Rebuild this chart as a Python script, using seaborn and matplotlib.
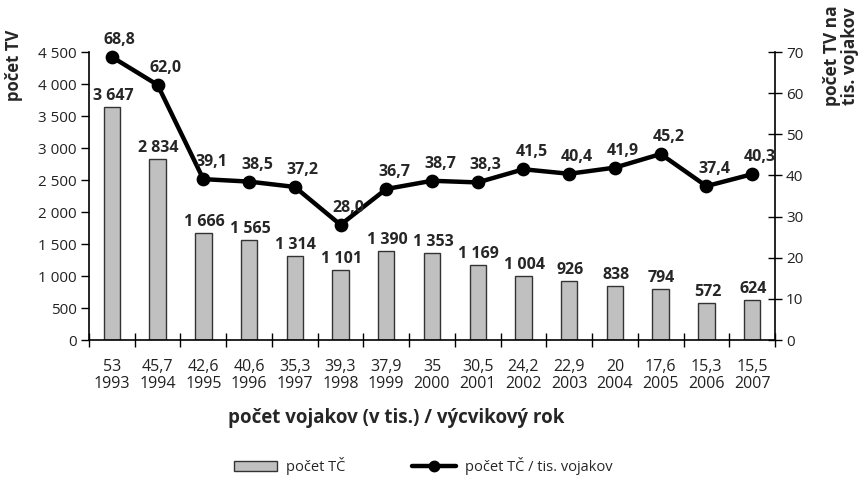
import matplotlib
matplotlib.use("Agg")
import matplotlib.pyplot as plt
import seaborn as sns
import numpy as np
import pandas as pd
from matplotlib.patches import Patch
from matplotlib.lines import Line2D

soldiers = ["53", "45,7", "42,6", "40,6", "35,3", "39,3", "37,9", "35", "30,5",
            "24,2", "22,9", "20", "17,6", "15,3", "15,5"]
years = ["1993", "1994", "1995", "1996", "1997", "1998", "1999", "2000", "2001",
         "2002", "2003", "2004", "2005", "2006", "2007"]
counts = [3647, 2834, 1666, 1565, 1314, 1101, 1390, 1353, 1169, 1004, 926, 838, 794, 572, 624]
rates = [68.8, 62.0, 39.1, 38.5, 37.2, 28.0, 36.7, 38.7, 38.3, 41.5, 40.4, 41.9, 45.2, 37.4, 40.3]
left_ticks = [0, 500, 1000, 1500, 2000, 2500, 3000, 3500, 4000, 4500]
right_ticks = [0, 10, 20, 30, 40, 50, 60, 70]

sns.set_style("white")
plt.rcParams["font.family"] = ["Open Sans", "DejaVu Sans"]

cats = [f"{s}\n{y}" for s, y in zip(soldiers, years)]
df = pd.DataFrame({"cat": cats, "count": counts, "rate": rates})

fig = plt.figure(figsize=(8.67, 4.82), dpi=100)
ax = fig.add_axes([89/867, 1-340/482, (775-89)/867, (340-52)/482])
sns.barplot(data=df, x="cat", y="count", ax=ax, color="#c0c0c0", width=0.36,
            edgecolor="#333333", linewidth=1.0, saturation=1)
ax2 = ax.twinx()
sns.pointplot(data=df, x="cat", y="rate", ax=ax2, color="black", markers="o",
              linewidth=3.2, markersize=7.5)
for coll in ax2.collections + ax2.lines:
    coll.set_clip_on(False)

n = len(cats)
ax.set_xlim(-0.5, n - 0.5)
ax2.set_xlim(-0.5, n - 0.5)
ax.set_ylim(0, 4500)
ax2.set_ylim(0, 70)

ax.set_yticks(left_ticks)
ax.set_yticklabels([f"{v:,}".replace(",", " ") for v in left_ticks], fontsize=11)
ax2.set_yticks(right_ticks)
ax2.set_yticklabels([str(v) for v in right_ticks], fontsize=11)
ax.set_xticks(range(n))
ax.set_xticklabels(cats, fontsize=11.5, linespacing=1.05)
ax.set_xticks(np.arange(-0.5, n, 1.0), minor=True)
ax.tick_params(axis="x", which="major", bottom=True, length=0, pad=14, colors="#222222")
ax.tick_params(axis="x", which="minor", bottom=True, length=10, width=1,
               direction="inout", color="black")
ax.tick_params(axis="y", left=True, right=False, length=6, width=1, direction="out",
               color="black", pad=3, labelcolor="#222222")
ax2.tick_params(axis="y", right=True, left=False, length=10, width=1, direction="inout",
                color="black", pad=3, labelcolor="#222222")
ax2.tick_params(axis="x", bottom=False, labelbottom=False)
ax.set_xlabel("")
ax.set_ylabel("")
ax2.set_ylabel("")
ax2.set_xlabel("")

for a in (ax, ax2):
    a.spines["top"].set_visible(False)
    for s in ("left", "right", "bottom"):
        a.spines[s].set_color("black")
        a.spines[s].set_linewidth(1.2)
ax.spines["right"].set_visible(False)
ax2.spines["left"].set_visible(False)
ax2.spines["bottom"].set_visible(False)

for i, v in enumerate(counts):
    ax.annotate(f"{v:,}".replace(",", " "), (i, v), xytext=(1, 3), textcoords="offset pixels",
                ha="center", va="bottom", fontsize=11.5, fontweight="bold", annotation_clip=False)
for i, v in enumerate(rates):
    ax2.annotate(f"{v:.1f}".replace(".", ","), (i, v), xytext=(8, 9), textcoords="offset pixels",
                 ha="center", va="bottom", fontsize=11.5, fontweight="bold", annotation_clip=False)

fig.text(14/867, 1-65/482, "počet TV", rotation=90, ha="center", va="center",
         fontsize=12, fontweight="bold")
fig.text(841/867, 1-56/482, "počet TV na\ntis. vojakov", rotation=90, ha="center", va="center",
         fontsize=12.5, fontweight="bold", linespacing=0.95)
fig.text(396/867, 1-418/482, "počet vojakov (v tis.) / výcvikový rok", ha="center", va="center",
         fontsize=13.5, fontweight="bold")

handles = [Patch(facecolor="#c0c0c0", edgecolor="#333333", linewidth=1.0),
           Line2D([0], [0], color="black", linewidth=3.2, marker="o", markersize=7.5)]
fig.legend(handles, ["počet TČ", "počet TČ / tis. vojakov"], loc="center",
           bbox_to_anchor=(423/867, 1-466/482), ncol=2, frameon=False, fontsize=10.5,
           handlelength=3.0, handleheight=0.75, columnspacing=4.6, handletextpad=0.6)

fig.savefig("out.png", dpi=100)
